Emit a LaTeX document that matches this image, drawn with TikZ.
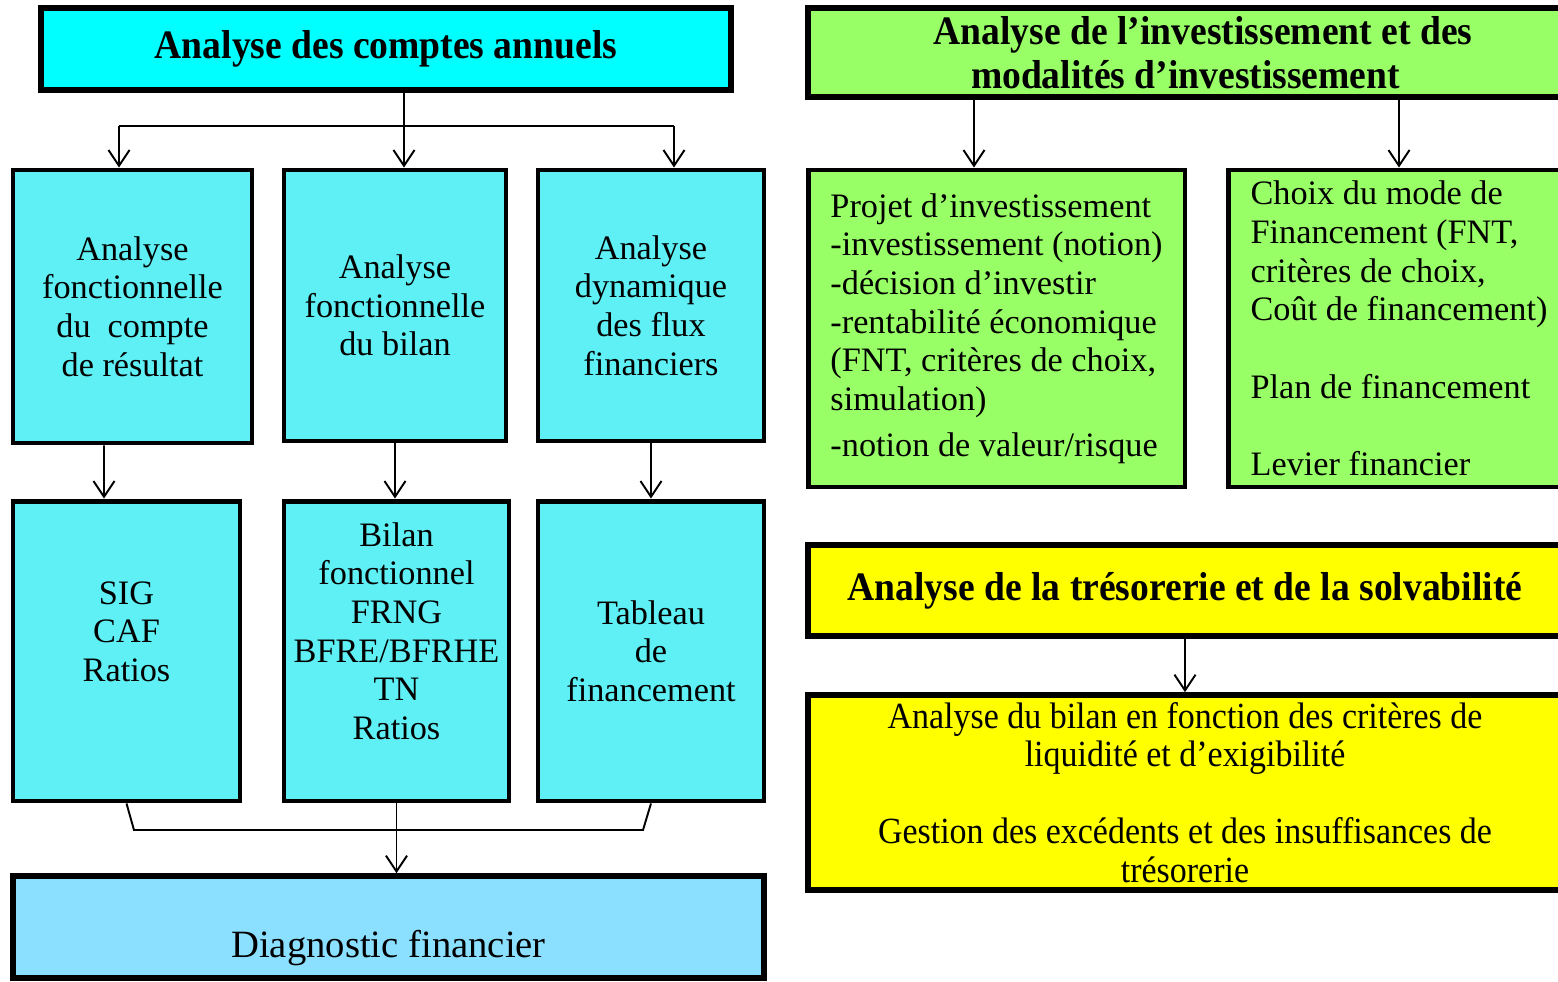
\documentclass[tikz,border=0pt]{standalone}
\usepackage{fontspec}
\setmainfont{Liberation Serif}
\newfontfamily\titlefont{Liberation Serif}[FakeStretch=0.93]
\newfontfamily\narrowfont{Liberation Serif}[FakeStretch=0.92]
\usetikzlibrary{arrows.meta,positioning}

\definecolor{cyanhead}{HTML}{00FFFF}
\definecolor{cyanbox}{HTML}{5FF0F5}
\definecolor{bluebox}{HTML}{8CE0FF}
\definecolor{greenbox}{HTML}{99FF66}
\definecolor{yellowbox}{HTML}{FFFF00}

\begin{document}
\begin{tikzpicture}[x=0.02cm,y=-0.02cm,>={Straight Barb[length=9pt,width=12pt]},
	head/.style={draw,line width=3.2pt,align=center,inner sep=0pt,font=\titlefont\fontsize{23}{25}\selectfont\bfseries},
	box/.style={draw,line width=2.8pt,align=center,inner sep=0pt,fill=cyanbox,font=\fontsize{19.5}{22}\selectfont},
	arr/.style={->,line width=1.1pt}]
	\clip (0,0) rectangle (1558,981);
	\fill[white] (0,0) rectangle (1558,981);
	% analyse des comptes annuels
	\node[head,fill=cyanhead,minimum width=13.8cm,minimum height=1.64cm] (cpt) at (386,49) {Analyse des comptes annuels};
	\node[box,minimum width=4.78cm,minimum height=5.46cm] (a_1) at (132.5,306.5) {Analyse\\fonctionnelle\\du~~compte\\de résultat};
	\node[box,minimum width=4.44cm,minimum height=5.42cm] (a_2) at (395,305.5) {Analyse\\fonctionnelle\\du bilan};
	\node[box,minimum width=4.52cm,minimum height=5.42cm] (a_3) at (651,305.5) {Analyse\\dynamique\\des flux\\financiers};
	\node[box,minimum width=4.54cm,minimum height=6cm] (b_1) at (126.5,651) {SIG\\CAF\\Ratios\rule[-0.78cm]{0pt}{0.1pt}};
	\node[box,minimum width=4.5cm,minimum height=6cm] (b_2) at (396.5,651) {Bilan\\fonctionnel\\FRNG\\BFRE/BFRHE\\TN\\Ratios\rule[-0.8cm]{0pt}{0.1pt}};
	\node[box,minimum width=4.52cm,minimum height=6cm] (b_3) at (651,651) {Tableau\\de\\financement};
	\node[box,fill=bluebox,line width=3.2pt,minimum width=15.02cm,minimum height=2.04cm,font=\fontsize{22}{24}\selectfont] (diag) at (388.5,927) {\rule{0pt}{1.4cm}Diagnostic financier};
	\coordinate (s_0) at (404,126);
	\coordinate (s_1) at (119,126);
	\coordinate (s_2) at (674,126);
	\draw[line width=1.1pt] (s_0 |- cpt.south) -- (s_0);
	\draw[line width=1.1pt] (s_1) -- (s_2);
	\foreach \s/\n in {s_0/a_2,s_1/a_1,s_2/a_3}
		\draw[arr] (\s) -- (\s |- \n.north);
	\draw[arr] ([xshift=-0.57cm]a_1.south) -- ([xshift=-0.45cm]b_1.north);
	\draw[arr] (a_2.south) -- (a_2.south |- b_2.north);
	\draw[arr] (a_3) -- (b_3);
	\coordinate (j_1) at (134,830);
	\coordinate (j_2) at (643,830);
	\draw[line width=1.1pt] (b_1.south) -- (j_1) -- (j_2) -- (b_3.south);
	\draw[arr] (b_2.south) -- (b_2.south |- diag.north);
	% investissement
	\node[head,fill=greenbox,minimum width=15.8cm,minimum height=1.78cm] (inv) at (1203,52.5) {Analyse de l’investissement et des\\modalités d’investissement\hspace*{0.7cm}};
	\node[box,fill=greenbox,align=left,minimum width=7.54cm,minimum height=6.34cm] (proj) at (996.5,328.5) {Projet d’investissement\\-investissement (notion)\\-décision d’investir\\-rentabilité économique\\(FNT, critères de choix,\\simulation)\\[0.15cm]-notion de valeur/risque};
	\node[box,fill=greenbox,align=left,minimum width=6.84cm,minimum height=6.34cm] (mode) at (1399,328.5) {Choix du mode de\\Financement (FNT,\\critères de choix,\\Coût de financement)\\~\\Plan de financement\\~\\Levier financier};
	\draw[arr] ([xshift=-0.45cm]proj.north |- inv.south) -- ([xshift=-0.45cm]proj.north);
	\draw[arr] (mode.north |- inv.south) -- (mode.north);
	% tresorerie
	\node[head,fill=yellowbox,minimum width=15.08cm,minimum height=1.82cm] (tres) at (1185,590.5) {Analyse de la trésorerie et de la solvabilité};
	\node[box,fill=yellowbox,line width=3.2pt,minimum width=15.08cm,minimum height=3.9cm,font=\narrowfont\fontsize{21}{22}\selectfont] (liq) at (1185,792.5) {Analyse du bilan en fonction des critères de\\liquidité et d’exigibilité\\~\\Gestion des excédents et des insuffisances de\\trésorerie};
	\draw[arr] (tres) -- (liq);
\end{tikzpicture}
\end{document}
